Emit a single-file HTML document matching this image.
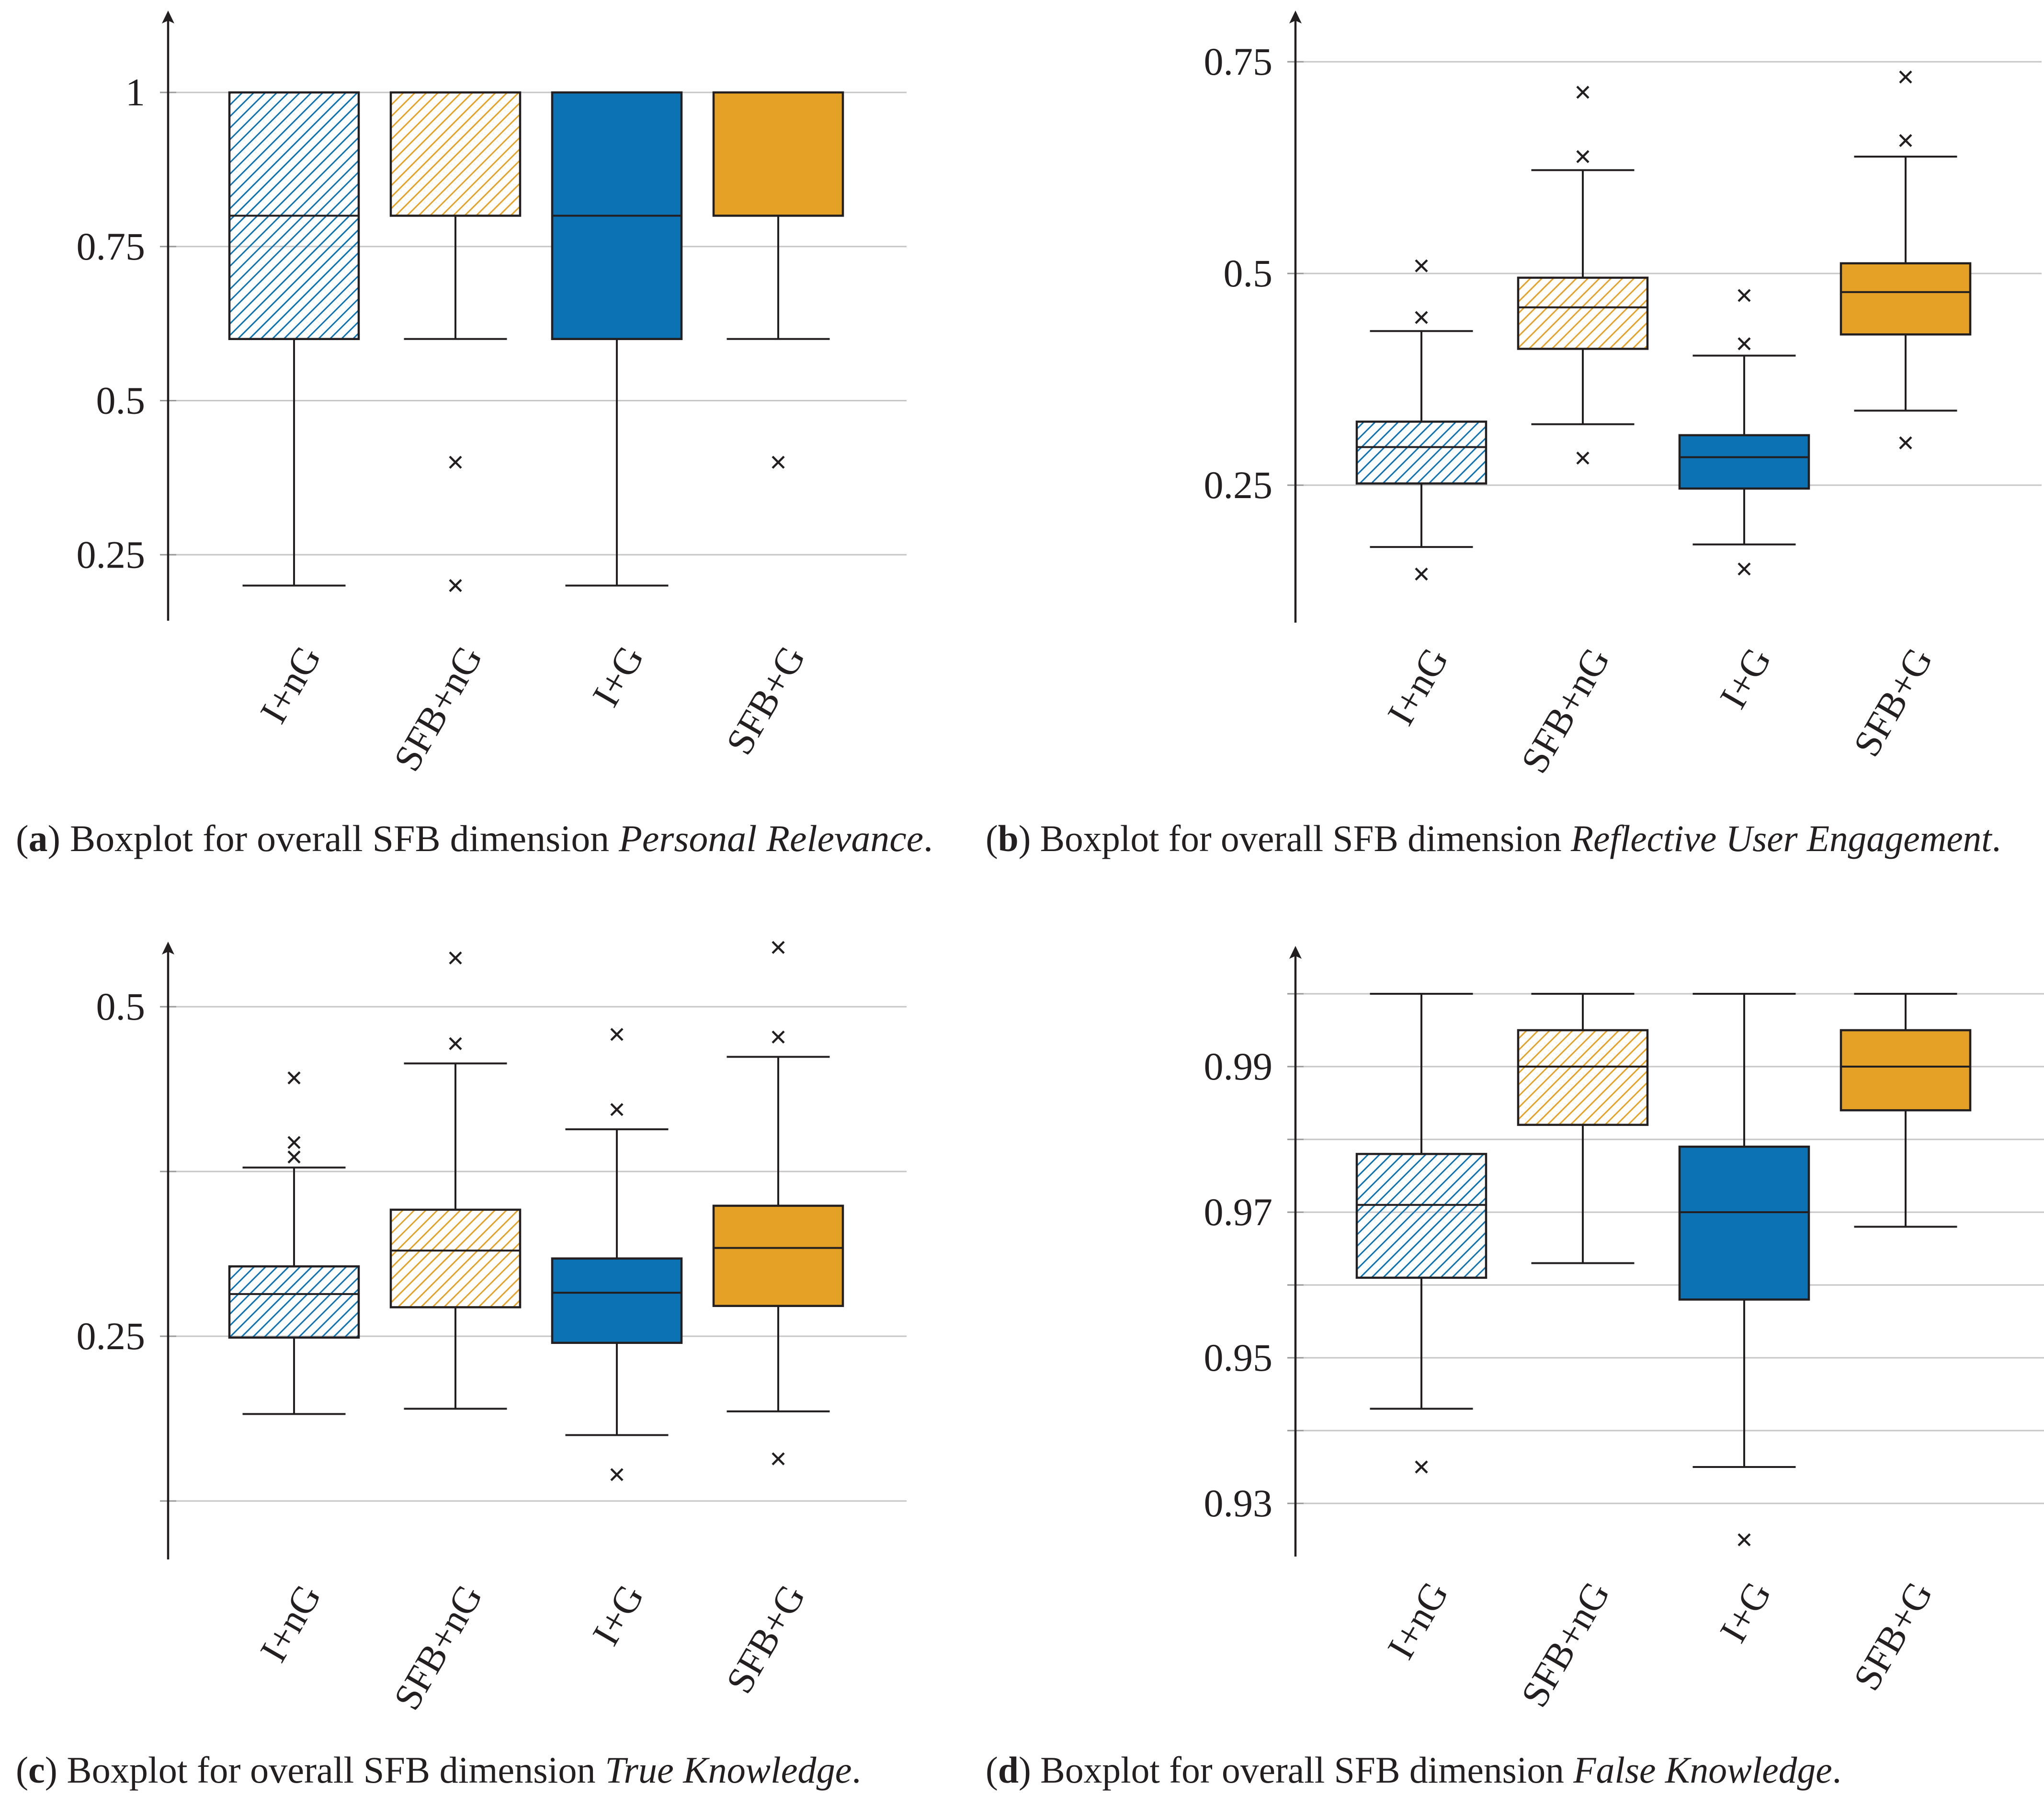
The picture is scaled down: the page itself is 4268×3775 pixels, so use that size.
<!DOCTYPE html>
<html><head><meta charset="utf-8"><style>
html,body{margin:0;padding:0;background:#fff;}
svg{display:block;}
text{font-family:"Liberation Serif",serif;fill:#231f20;}
</style></head>
<body>
<svg id="fig" xmlns="http://www.w3.org/2000/svg" width="4268" height="3775" viewBox="0 0 4268 3775">
<defs>
<pattern id="hatch-blue" patternUnits="userSpaceOnUse" width="17" height="17" patternTransform="rotate(45)">
<line x1="0" y1="0" x2="0" y2="17" stroke="#0c72b3" stroke-width="6"/>
</pattern>
<pattern id="hatch-orange" patternUnits="userSpaceOnUse" width="17" height="17" patternTransform="rotate(45)">
<line x1="0" y1="0" x2="0" y2="17" stroke="#e5a125" stroke-width="6"/>
</pattern>
</defs>
<g id="layer"></g>
<text x="33" y="1777" font-size="78" textLength="1915" lengthAdjust="spacingAndGlyphs">(<tspan font-weight="bold">a</tspan>) Boxplot for overall SFB dimension <tspan font-style="italic">Personal Relevance</tspan>.</text>
<text x="2058" y="1777" font-size="78" textLength="2120" lengthAdjust="spacingAndGlyphs">(<tspan font-weight="bold">b</tspan>) Boxplot for overall SFB dimension <tspan font-style="italic">Reflective User Engagement</tspan>.</text>
<text x="33" y="3722" font-size="78" textLength="1765" lengthAdjust="spacingAndGlyphs">(<tspan font-weight="bold">c</tspan>) Boxplot for overall SFB dimension <tspan font-style="italic">True Knowledge</tspan>.</text>
<text x="2058" y="3722" font-size="78" textLength="1787" lengthAdjust="spacingAndGlyphs">(<tspan font-weight="bold">d</tspan>) Boxplot for overall SFB dimension <tspan font-style="italic">False Knowledge</tspan>.</text>
</svg>
<script>
const categories = ["I+nG", "SFB+nG", "I+G", "SFB+G"];

// Panel (a) Personal Relevance
const aLow = [0.2, 0.6, 0.2, 0.6];
const aQ1 = [0.6, 0.8, 0.6, 0.8];
const aMed = [0.8, 1.0, 0.8, 1.0];
const aQ3 = [1.0, 1.0, 1.0, 1.0];
const aHigh = [1.0, 1.0, 1.0, 1.0];
const aOut = [[], [0.4, 0.2], [], [0.4]];
const aTicks = [0.25, 0.5, 0.75, 1];
const aTickLabels = ["0.25", "0.5", "0.75", "1"];

// Panel (b) Reflective User Engagement
const bLow = [0.177, 0.322, 0.18, 0.338];
const bQ1 = [0.252, 0.411, 0.246, 0.428];
const bMed = [0.295, 0.46, 0.283, 0.478];
const bQ3 = [0.325, 0.495, 0.309, 0.512];
const bHigh = [0.432, 0.622, 0.403, 0.638];
const bOut = [[0.509, 0.448, 0.145], [0.714, 0.638, 0.282], [0.474, 0.417, 0.151], [0.732, 0.657, 0.3]];
const bTicks = [0.25, 0.5, 0.75];
const bTickLabels = ["0.25", "0.5", "0.75"];

// Panel (c) True Knowledge
const cLow = [0.191, 0.195, 0.175, 0.193];
const cQ1 = [0.249, 0.272, 0.245, 0.273];
const cMed = [0.282, 0.315, 0.283, 0.317];
const cQ3 = [0.303, 0.346, 0.309, 0.349];
const cHigh = [0.378, 0.457, 0.407, 0.462];
const cOut = [[0.446, 0.397, 0.386], [0.537, 0.472], [0.479, 0.422, 0.145], [0.545, 0.477, 0.157]];
const cGrid = [0.125, 0.25, 0.375, 0.5];
const cTicks = [0.25, 0.5];
const cTickLabels = ["0.25", "0.5"];

// Panel (d) False Knowledge
const dLow = [0.943, 0.963, 0.935, 0.968];
const dQ1 = [0.961, 0.982, 0.958, 0.984];
const dMed = [0.971, 0.99, 0.97, 0.99];
const dQ3 = [0.978, 0.995, 0.979, 0.995];
const dHigh = [1.0, 1.0, 1.0, 1.0];
const dOut = [[0.935], [], [0.925], []];
const dGrid = [0.93, 0.94, 0.95, 0.96, 0.97, 0.98, 0.99, 1.0];
const dTicks = [0.93, 0.95, 0.97, 0.99];
const dTickLabels = ["0.93", "0.95", "0.97", "0.99"];

const NS = "http://www.w3.org/2000/svg";
const layer = document.getElementById("layer");
function mk(tag, attrs, parent) {
  const e = document.createElementNS(NS, tag);
  for (const k in attrs) e.setAttribute(k, attrs[k]);
  (parent || layer).appendChild(e);
  return e;
}
const fills = ["url(#hatch-blue)", "url(#hatch-orange)", "#0c72b3", "#e5a125"];

function panel(id, cfg, low, q1, med, q3, high, outs, grid, ticks, tickLabels) {
  const g = mk("g", {});
  
  
  const y = v => cfg.y0 + (cfg.v0 - v) * cfg.ppu;
  const xc = i => cfg.axisX + 263 + 337 * i;
  grid.forEach(v => {
    const l = mk("line", {x1: cfg.axisX, x2: cfg.gridEnd, y1: y(v), y2: y(v), stroke: "#c6c6c6", "stroke-width": 3}, g);
    
    
    const t = mk("line", {x1: cfg.axisX - 17, x2: cfg.axisX + 17, y1: y(v), y2: y(v), stroke: "#999", "stroke-width": 3}, g);
    
    
  });
  ticks.forEach((v, i) => {
    const t = mk("text", {x: cfg.axisX - 48, y: y(v) + 27, "font-size": 82, "text-anchor": "end"}, g);
    t.textContent = tickLabels[i];
    
    
  });
  const ax = mk("line", {x1: cfg.axisX, x2: cfg.axisX, y1: cfg.bottom, y2: cfg.top + 20, stroke: "#231f20", "stroke-width": 4.5}, g);
  
  
  const ar = mk("path", {d: `M${cfg.axisX} ${cfg.top} L${cfg.axisX - 13} ${cfg.top + 27} L${cfg.axisX} ${cfg.top + 21} L${cfg.axisX + 13} ${cfg.top + 27} Z`, fill: "#231f20"}, g);
  
  
  categories.forEach((c, i) => {
    const cx = xc(i), bw = 270, cw = 215;
    const bg = mk("g", {}, g);
    
    
    const st = {stroke: "#231f20", "stroke-width": 4};
    mk("line", Object.assign({x1: cx, x2: cx, y1: y(high[i]), y2: y(q3[i])}, st), bg);
    mk("line", Object.assign({x1: cx, x2: cx, y1: y(q1[i]), y2: y(low[i])}, st), bg);
    mk("line", Object.assign({x1: cx - cw / 2, x2: cx + cw / 2, y1: y(high[i]), y2: y(high[i])}, st), bg);
    mk("line", Object.assign({x1: cx - cw / 2, x2: cx + cw / 2, y1: y(low[i]), y2: y(low[i])}, st), bg);
    const r = mk("rect", {x: cx - bw / 2, y: y(q3[i]), width: bw, height: Math.max(1, y(q1[i]) - y(q3[i])), fill: fills[i], stroke: "#231f20", "stroke-width": 4.5}, bg);
    
    
    const m = mk("line", Object.assign({x1: cx - bw / 2, x2: cx + bw / 2, y1: y(med[i]), y2: y(med[i])}, st), bg);
    
    
    outs[i].forEach(v => {
      const yy = y(v), s = 12;
      const o = mk("path", {d: `M${cx - s} ${yy - s} L${cx + s} ${yy + s} M${cx - s} ${yy + s} L${cx + s} ${yy - s}`, stroke: "#231f20", "stroke-width": 4.5, fill: "none"}, bg);
      
      
    });
    const ex = cx + 58, ey = cfg.bottom + 73;
    const lab = mk("text", {x: ex, y: ey, "font-size": 80, "text-anchor": "end", transform: `rotate(-60 ${ex} ${ey})`}, g);
    lab.textContent = c;
    
    
  });
}

panel("a", {axisX: 351, gridEnd: 1893, y0: 193, v0: 1, ppu: 1287, bottom: 1296, top: 22}, aLow, aQ1, aMed, aQ3, aHigh, aOut, aTicks, aTicks, aTickLabels);
panel("b", {axisX: 2705, gridEnd: 4263, y0: 571, v0: 0.5, ppu: 1768, bottom: 1300, top: 22}, bLow, bQ1, bMed, bQ3, bHigh, bOut, bTicks, bTicks, bTickLabels);
panel("c", {axisX: 351, gridEnd: 1893, y0: 2102, v0: 0.5, ppu: 2752, bottom: 3256, top: 1966}, cLow, cQ1, cMed, cQ3, cHigh, cOut, cGrid, cTicks, cTickLabels);
panel("d", {axisX: 2705, gridEnd: 4268, y0: 2227, v0: 0.99, ppu: 15200, bottom: 3250, top: 1975}, dLow, dQ1, dMed, dQ3, dHigh, dOut, dGrid, dTicks, dTickLabels);
</script>
</body></html>
